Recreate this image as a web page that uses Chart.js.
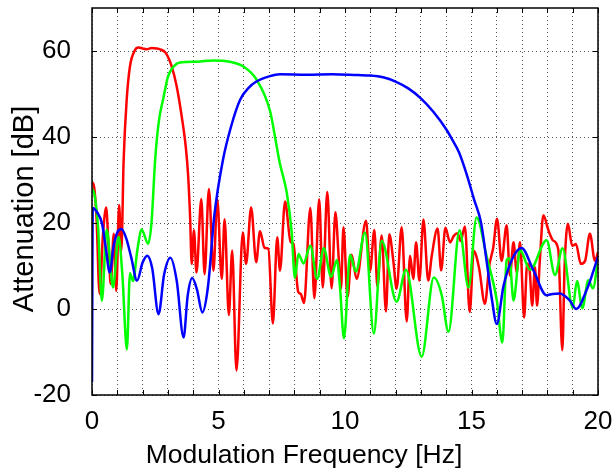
<!DOCTYPE html>
<html><head><meta charset="utf-8">
<script src="https://cdn.jsdelivr.net/npm/chart.js@4/dist/chart.umd.min.js"></script>
<style>html,body{margin:0;padding:0;background:#fff;}</style>
</head><body>
<canvas id="c" width="612" height="470"></canvas>
<script>
const redFreq = [0,0.08,0.18,0.3,0.43,0.56,0.65,0.74,0.86,0.96,1.07,1.16,1.25,1.37,1.5,1.7,1.83,2.0,2.16,2.36,2.55,2.69,2.92,3.15,3.35,3.54,3.71,3.8,3.88,3.94,4.03,4.13,4.32,4.45,4.62,4.8,4.95,5.13,5.24,5.41,5.54,5.71,5.96,6.09,6.29,6.49,6.64,6.82,6.97,7.15,7.32,7.43,7.63,7.85,7.96,8.15,8.25,8.38,8.63,8.79,8.98,9.12,9.3,9.47,9.62,9.75,9.84,9.94,10.1,10.26,10.46,10.83,10.99,11.16,11.28,11.45,11.62,11.75,11.91,12.04,12.24,12.44,12.57,12.7,12.81,12.94,13.1,13.29,13.43,13.66,13.8,13.97,14.15,14.3,14.45,14.57,14.74,14.93,15.09,15.3,15.53,15.7,15.86,16.01,16.19,16.39,16.52,16.66,16.79,16.92,17.08,17.2,17.3,17.4,17.51,17.59,17.7,17.84,18.04,18.23,18.43,18.59,18.68,18.81,18.98,19.13,19.32,19.49,19.68,19.88,20];
const redAtt  = [29.5,28.5,21,3.5,17,23.6,15,5.8,17.5,4.2,24.2,13.6,34.5,48.6,56.4,60.2,60.8,60.6,60.4,60.7,60.6,60.4,59.5,56.4,51.7,45,37.5,31,21,10.5,18.3,8.5,25.6,8.1,27.9,8.9,25.6,7,20.9,-1.4,13.6,-14.3,17.8,10.5,23.6,10.9,18.1,14.2,14,-3.4,16.7,8.9,25,15.6,15.2,4,3.5,1.4,23.5,2.5,25.5,5,27.2,4.8,22.5,12,4.7,19,2.8,12.6,7,20.5,8.9,18.4,5.2,17.1,-0.6,17.4,11.2,4.7,19,-2.9,12.4,7,15.5,6.6,20.8,6.6,12.4,18.7,9,18.9,15.5,17,17.6,15.8,19.2,-0.7,13.5,9.5,1.2,10,14.3,21,11.2,19.5,7.8,15.5,8.5,15.5,-2,10.5,8.9,0.8,9.7,0.8,11.2,21.8,18.3,15.9,13.8,-9.6,10,19.8,14.7,15.1,10.5,11.2,17.5,11.2,13.2];

const greenFreq = [0,0.1,0.24,0.39,0.58,0.83,1.05,1.2,1.38,1.5,1.62,1.8,1.96,2.22,2.35,2.5,2.65,2.82,3.0,3.15,3.48,4.14,4.8,5.45,5.98,6.51,7.04,7.25,7.42,7.7,7.89,8.02,8.16,8.36,8.63,8.9,9.16,9.45,9.68,9.8,9.96,10.2,10.43,10.79,11.14,11.45,12.04,12.41,13.03,13.51,13.82,14.09,14.53,14.88,15.2,15.6,16.0,16.22,16.39,16.5,16.66,16.92,17.31,17.97,18.3,18.6,19.0,19.17,19.38,19.62,19.8,20];
const greenAtt  = [28,26.5,19,1.9,18.5,5,16.8,8,-9.4,8.3,6.5,14,18.5,15.2,20,35,44,49,54,55.8,57.3,57.5,57.8,57.5,56.4,53.3,46,39.5,34,27,18,7.2,12.8,10.6,14.7,7,14.1,7.5,11.4,5.2,-6.8,12.6,8.7,17.8,-5.7,15.9,1.7,9.1,-11.1,7.3,3.3,-5.3,18.3,5,21.3,12.2,2,-7.8,11.4,11.8,2,13.7,9.1,16,7.9,14.1,0.3,6.5,0.2,6.7,4.8,11.4];

const blueFreq = [0,0.03,0.2,0.4,0.55,0.7,0.85,1.0,1.16,1.35,1.55,1.78,2.0,2.18,2.38,2.63,2.85,3.1,3.35,3.62,3.78,3.96,4.15,4.36,4.58,4.84,5.17,5.5,5.85,6.2,6.5,7.0,7.43,8.5,9.5,10.5,11.0,11.5,12.0,12.5,13.0,13.5,14.0,14.2,14.5,14.8,15.1,15.38,15.6,15.8,16.0,16.26,16.59,16.98,17.44,17.97,18.2,18.49,18.88,19.14,19.55,19.8,20];
const blueAtt  = [-17,23.5,22.5,19.8,14,8.5,14.5,17.8,18.6,16.5,12,6.6,10.8,12.4,9.5,-1.2,8,11.9,6.5,-6.6,3,7.2,4.5,-0.8,5,22,34.5,42.5,48.6,51.5,52.9,54.1,54.6,54.5,54.6,54.4,54.3,53.9,52.9,51.3,49,45.8,41.8,39.8,36.5,31.5,25.5,20,11,2.5,-3.5,5.2,11.4,14.2,9.1,3.2,3.5,3.6,2,0,4.4,8.5,12.2];

const xTickLabels = [0,5,10,15,20];
const xMinorTicks = [0,1,2,3,4,5,6,7,8,9,10,11,12,13,14,15,16,17,18,19,20];
const yTickLabels = [-20,0,20,40,60];
const xTitle = 'Modulation Frequency [Hz]';
const yTitle = 'Attenuation [dB]';

const FONT = '"Liberation Sans", Arial, Helvetica, sans-serif';
const pts = (f, v) => f.map((x, i) => ({x: x, y: v[i]}));

const decor = {
  id: 'decor',
  beforeDraw(chart) {
    const c = chart.ctx;
    c.save(); c.fillStyle = '#fff'; c.fillRect(0, 0, chart.width, chart.height); c.restore();
  },
  afterDraw(chart) {
    const c = chart.ctx, a = chart.chartArea, xs = chart.scales.x, ys = chart.scales.y;
    c.save();
    c.strokeStyle = '#000';
    c.lineWidth = 1;
    c.beginPath();
    xs.ticks.forEach(t => {
      const px = Math.round(xs.getPixelForValue(t.value)) + 0.5;
      c.moveTo(px, a.bottom); c.lineTo(px, a.bottom - 5);
      c.moveTo(px, a.top); c.lineTo(px, a.top + 5);
    });
    ys.ticks.forEach(t => {
      const py = Math.round(ys.getPixelForValue(t.value)) + 0.5;
      c.moveTo(a.left, py); c.lineTo(a.left + 5, py);
      c.moveTo(a.right, py); c.lineTo(a.right - 5, py);
    });
    c.stroke();
    c.lineWidth = 1.5;
    c.strokeRect(a.left, a.top, a.right - a.left, a.bottom - a.top);
    c.fillStyle = '#000';
    c.textAlign = 'center';
    c.textBaseline = 'alphabetic';
    c.font = '26.5px ' + FONT;
    c.fillText(xTitle, 304, 463);
    c.font = '29px ' + FONT;
    c.translate(33, 209);
    c.rotate(-Math.PI / 2);
    c.fillText(yTitle, 0, 0);
    c.restore();
  }
};

new Chart(document.getElementById('c'), {
  type: 'line',
  data: {
    datasets: [
      {label: 'red', data: pts(redFreq, redAtt), borderColor: '#ff0000', order: 2},
      {label: 'green', data: pts(greenFreq, greenAtt), borderColor: '#00ff00', order: 1},
      {label: 'blue', data: pts(blueFreq, blueAtt), borderColor: '#0000ff', order: 0}
    ]
  },
  options: {
    responsive: false,
    animation: false,
    devicePixelRatio: 1,
    layout: {padding: {top: 8, right: 14, left: 0, bottom: 0}},
    elements: {
      point: {radius: 0, hoverRadius: 0},
      line: {borderWidth: 2.5, cubicInterpolationMode: 'monotone', fill: false}
    },
    plugins: {legend: {display: false}, tooltip: {enabled: false}},
    scales: {
      x: {
        type: 'linear', min: 0, max: 20,
        afterBuildTicks: s => { s.ticks = xMinorTicks.map(v => ({value: v})); },
        afterFit: s => { s.height = 75; s.paddingLeft = 0; s.paddingRight = 0; },
        ticks: {
          autoSkip: false, maxRotation: 0, padding: 11, color: '#000',
          font: {family: FONT, size: 26},
          callback: v => xTickLabels.includes(v) ? String(v) : ''
        },
        grid: {color: '#555', lineWidth: 1, drawTicks: false},
        border: {display: false, dash: [1, 3]}
      },
      y: {
        type: 'linear', min: -20, max: 70,
        afterBuildTicks: s => { s.ticks = yTickLabels.map(v => ({value: v})); },
        afterFit: s => { s.width = 92; s.paddingTop = 0; s.paddingBottom = 0; },
        ticks: {padding: 21, color: '#000', font: {family: FONT, size: 26}},
        grid: {color: '#555', lineWidth: 1, drawTicks: false},
        border: {display: false, dash: [1, 3]}
      }
    }
  },
  plugins: [decor]
});
</script>
</body></html>
